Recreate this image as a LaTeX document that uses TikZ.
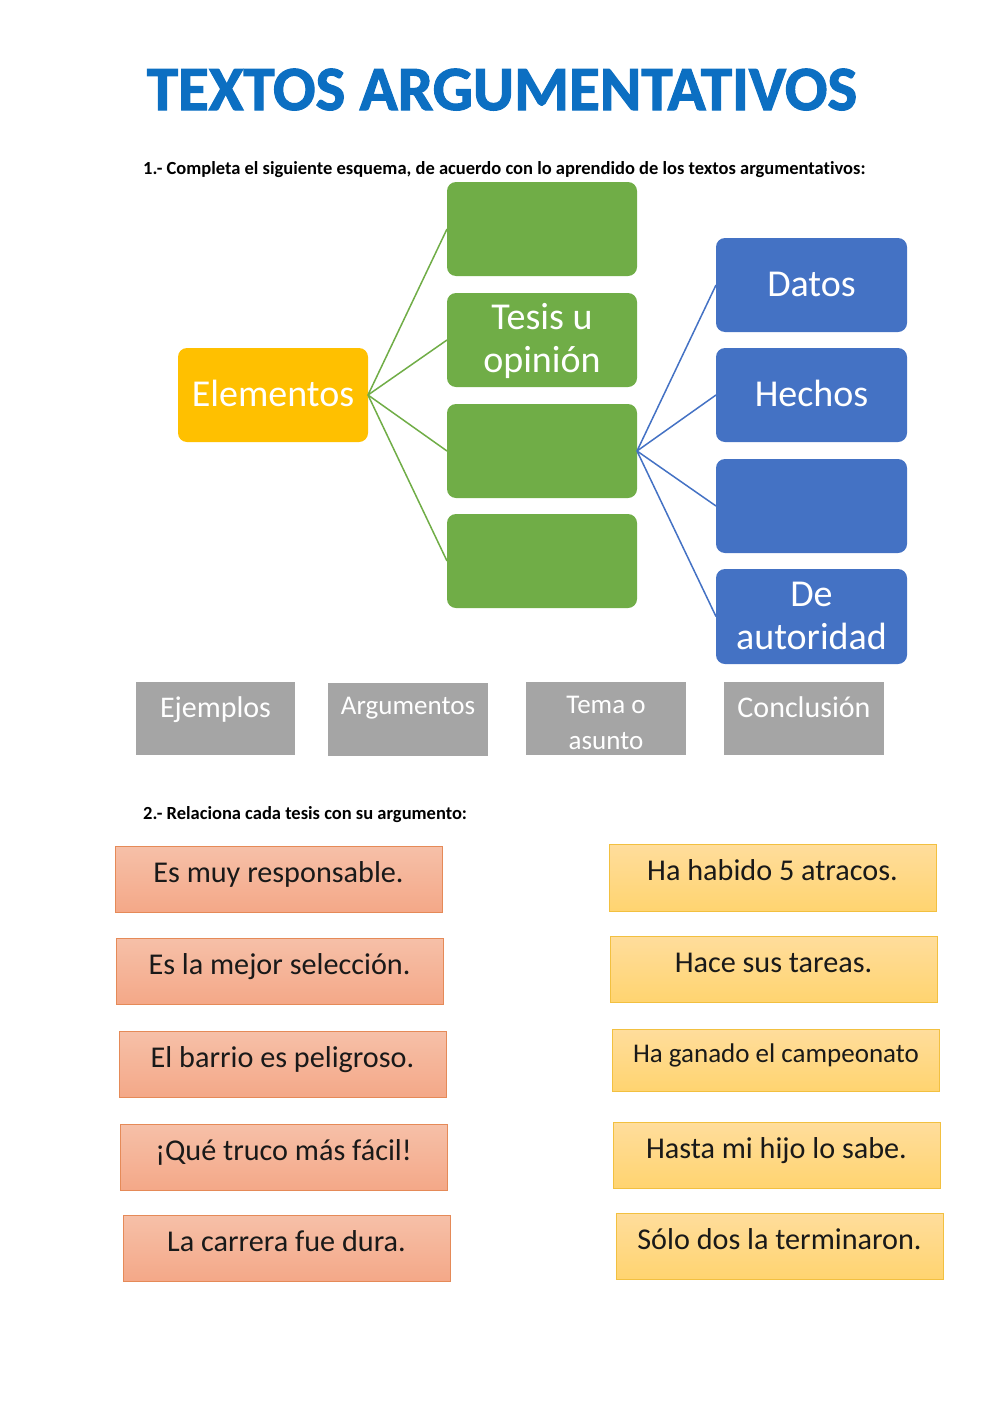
\documentclass[tikz,border=0pt]{standalone}
\usepackage{fontspec}
\setmainfont{Carlito}[Ligatures=NoCommon]
\definecolor{orangebox}{HTML}{FFC000}
\definecolor{greenbox}{HTML}{70AD47}
\definecolor{bluebox}{HTML}{4472C4}
\definecolor{greybox}{HTML}{A5A5A5}
\definecolor{titleblue}{HTML}{0C6FC2}
\newfontfamily\titlefont{Carlito}[Ligatures=NoCommon,BoldFeatures={FakeBold=1.8}]
\newcommand{\fs}[1]{\fontsize{#1}{#1}\selectfont}
% name x1 y1 x2 y2 style baseline text
\newcommand{\pb}[8]{%
  \pgfmathsetmacro{\pbX}{(#2+#4)/2}\pgfmathsetmacro{\pbY}{(#3+#5)/2}%
  \pgfmathsetmacro{\pbW}{#4-#2}\pgfmathsetmacro{\pbH}{#5-#3}%
  \pgfmathsetmacro{\pbT}{\pbH/2+#7-\pbY}\pgfmathsetmacro{\pbD}{\pbH/2-#7+\pbY}%
  \node[#6,minimum width=\pbW pt,minimum height=\pbH pt,text height=\pbT pt,text depth=\pbD pt] (#1) at (\pbX,\pbY) {#8};}
% multi-line box: #7 shifts the lines down by that much
\newcommand{\mb}[8]{%
  \pgfmathsetmacro{\pbX}{(#2+#4)/2}\pgfmathsetmacro{\pbY}{(#3+#5)/2}%
  \pgfmathsetmacro{\pbW}{#4-#2}\pgfmathsetmacro{\pbH}{#5-#3}%
  \node[#6,minimum width=\pbW pt,minimum height=\pbH pt,align=center] (#1) at (\pbX,\pbY) {\raisebox{-#7pt}[0pt][0pt]{\begin{tabular}{@{}c@{}}#8\end{tabular}}};}
\definecolor{peachtop}{HTML}{F6C0A8}
\definecolor{peachbot}{HTML}{F4A888}
\definecolor{peachline}{HTML}{E58A58}
\definecolor{yelltop}{HTML}{FFDD9C}
\definecolor{yellbot}{HTML}{FFD470}
\definecolor{yellline}{HTML}{F2C040}
\tikzset{
  base/.style={inner sep=0pt,outer sep=0pt,rectangle},
  rbox/.style={base,rounded corners=9pt,text=white},
  elembox/.style={rbox,fill=orangebox,font=\fs{38}},
  greenb/.style={rbox,fill=greenbox,font=\fs{38}},
  blueb/.style={rbox,fill=bluebox,font=\fs{38}},
  greyb/.style={base,fill=greybox,text=white,font=\fs{30}},
  greyc/.style={base,fill=greybox,text=white,font=\fs{27}},
  peach/.style={base,draw=peachline,line width=0.8pt,top color=peachtop,bottom color=peachbot,text=black!90,font=\fs{30.2}},
  yell/.style={base,draw=yellline,line width=0.8pt,top color=yelltop,bottom color=yellbot,text=black!90,font=\fs{30.2}},
  glink/.style={draw=greenbox,line width=1.5pt},
  blink/.style={draw=bluebox,line width=1.5pt},
  instr/.style={inner sep=0pt,anchor=base west,font=\bfseries\fs{18.5},text=black},
}
\begin{document}
\begin{tikzpicture}[x=1pt,y=-1pt]
\useasboundingbox (0,0) rectangle (1000,1413);
\node[inner sep=0pt,anchor=base,text=titleblue,font=\titlefont\bfseries\fs{63}] (title) at (502,110) {TEXTOS ARGUMENTATIVOS};
\node[instr] (q1) at (143,174) {1.- Completa el siguiente esquema, de acuerdo con lo aprendido de los textos argumentativos:};
\pb{elem}{178}{348}{368}{442}{elembox}{406}{Elementos}
\pb{g1}{447}{182}{637}{276}{greenb}{240}{}
\mb{g2}{447}{293}{637}{387}{greenb}{9.5}{Tesis u\\[5pt]opinión}
\pb{g3}{447}{404}{637}{498}{greenb}{460}{}
\pb{g4}{447}{514}{637}{608}{greenb}{570}{}
\pb{b1}{716}{238}{907}{332}{blueb}{296}{Datos}
\pb{b2}{716}{348}{907}{442}{blueb}{406}{Hechos}
\pb{b3}{716}{459}{907}{553}{blueb}{515}{}
\mb{b4}{716}{569}{907}{664}{blueb}{10.5}{De\\[5pt]autoridad}
\draw[glink] (elem.east) -- (g1.west);
\draw[glink] (elem.east) -- (g2.west);
\draw[glink] (elem.east) -- (g3.west);
\draw[glink] (elem.east) -- (g4.west);
\draw[blink] (g3.east) -- (b1.west);
\draw[blink] (g3.east) -- (b2.west);
\draw[blink] (g3.east) -- (b3.west);
\draw[blink] (g3.east) -- (b4.west);
\pb{k1}{136}{682}{295}{755}{greyb}{717}{Ejemplos}
\pb{k2}{328}{683}{488}{756}{greyc}{714}{Argumentos}
\mb{k3}{526}{682}{686}{755}{greyc}{13.5}{Tema o\\[9pt]asunto}
\pb{k4}{724}{682}{884}{755}{greyb}{717}{Conclusión}
\node[instr] (q2) at (143,819.5) {2.- Relaciona cada tesis con su argumento:};
\pb{p1}{115}{846}{442}{912}{peach}{882}{Es muy responsable.}
\pb{p2}{116}{938}{443}{1004}{peach}{974}{Es la mejor selección.}
\pb{p3}{119}{1031}{446}{1097}{peach}{1067}{El barrio es peligroso.}
\pb{p4}{120}{1124}{447}{1190}{peach}{1160}{¡Qué truco más fácil!}
\pb{p5}{123}{1215}{450}{1281}{peach}{1251}{La carrera fue dura.}
\pb{y1}{609}{844}{936}{911}{yell}{880}{Ha habido 5 atracos.}
\pb{y2}{610}{936}{937}{1002}{yell}{972}{Hace sus tareas.}
\pb{y3}{612.5}{1029}{939.5}{1091}{yell,font=\fs{27}}{1062}{Ha ganado el campeonato}
\pb{y4}{613}{1122}{940}{1188}{yell}{1158}{Hasta mi hijo lo sabe.}
\pb{y5}{616}{1213}{943}{1279}{yell}{1249}{Sólo dos la terminaron.}
\end{tikzpicture}
\end{document}
